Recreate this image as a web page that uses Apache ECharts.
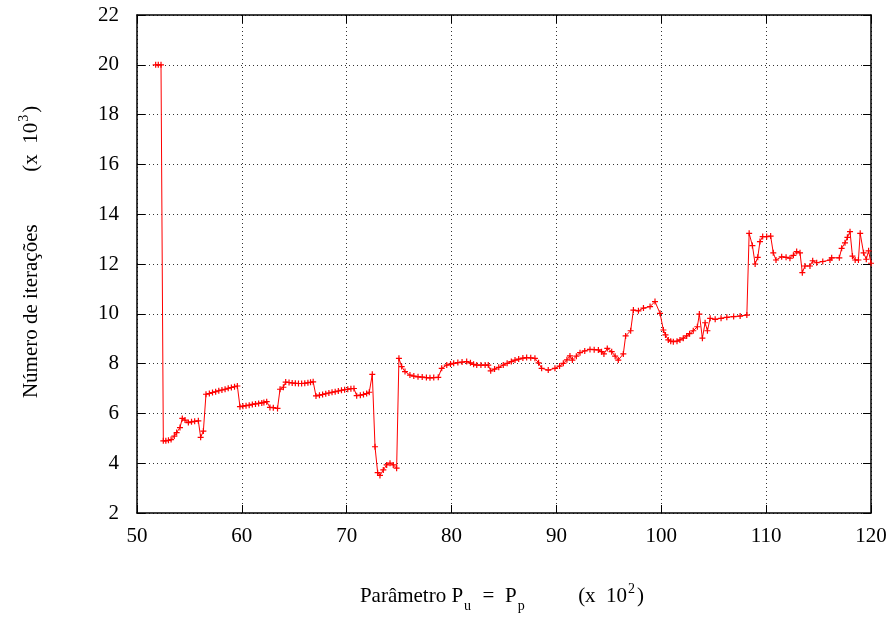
<!DOCTYPE html>
<html>
<head>
<meta charset="utf-8">
<script src="https://cdn.jsdelivr.net/npm/echarts@6/dist/echarts.min.js"></script>
<style>
  html, body { margin: 0; padding: 0; background: #fff; }
  #chart { width: 896px; height: 619px; }
</style>
</head>
<body>
<div id="chart"></div>
<script>
// Parameter P_u = P_p (x 10^2)
var xValues = [
  51.78, 52.03, 52.29, 52.51, 52.75, 53.0, 53.25, 53.56, 53.78, 54.1,
  54.32, 54.58, 54.9, 55.2, 55.5, 55.85, 56.07, 56.33, 56.58, 56.9,
  57.2, 57.5, 57.8, 58.1, 58.4, 58.7, 59.0, 59.3, 59.57, 59.82,
  60.1, 60.4, 60.7, 61.0, 61.3, 61.6, 61.9, 62.1, 62.37, 62.68,
  63.0, 63.4, 63.64, 63.96, 64.18, 64.5, 64.8, 65.1, 65.4, 65.7,
  66.0, 66.3, 66.55, 66.8, 67.07, 67.4, 67.7, 68.0, 68.3, 68.6,
  68.9, 69.2, 69.5, 69.8, 70.1, 70.4, 70.69, 70.95, 71.3, 71.6,
  71.9, 72.15, 72.44, 72.7, 72.95, 73.17, 73.49, 73.81, 74.13, 74.44,
  74.76, 74.98, 75.24, 75.56, 76.03, 76.4, 76.8, 77.2, 77.6, 77.94,
  78.3, 78.73, 79.06, 79.54, 79.9, 80.2, 80.6, 81.0, 81.44, 81.8,
  82.1, 82.4, 82.8, 83.2, 83.5, 83.73, 84.1, 84.5, 84.93, 85.3,
  85.7, 86.05, 86.4, 86.8, 87.16, 87.55, 87.95, 88.3, 88.59, 89.22,
  89.86, 90.3, 90.66, 91.0, 91.29, 91.52, 91.9, 92.25, 92.7, 93.2,
  93.6, 94.0, 94.3, 94.53, 94.85, 95.27, 95.6, 95.9, 96.38, 96.6,
  97.08, 97.34, 97.82, 98.3, 98.93, 99.4, 99.88, 100.2, 100.4, 100.67,
  100.9, 101.15, 101.5, 101.78, 102.1, 102.42, 102.7, 103.05, 103.44, 103.63,
  103.92, 104.18, 104.4, 104.66, 105.14, 105.7, 106.25, 106.9, 107.52, 108.16,
  108.38, 108.69, 108.95, 109.2, 109.41, 109.67, 110.05, 110.43, 110.68, 110.94,
  111.48, 111.9, 112.27, 112.6, 112.91, 113.23, 113.45, 113.7, 114.18, 114.44,
  114.82, 115.4, 116.09, 116.25, 116.98, 117.2, 117.52, 117.75, 118.0, 118.23,
  118.49, 118.8, 118.97, 119.29, 119.55, 119.77, 120.0
];

// Number of iterations (x 10^3)
var iterations = [
  20.0, 20.0, 20.0, 4.90, 4.90, 4.92, 4.95, 5.09, 5.23, 5.43,
  5.80, 5.73, 5.63, 5.66, 5.68, 5.70, 5.04, 5.29, 6.77, 6.80,
  6.84, 6.87, 6.91, 6.94, 6.97, 7.01, 7.04, 7.07, 7.10, 6.27,
  6.29, 6.31, 6.33, 6.36, 6.38, 6.40, 6.42, 6.44, 6.47, 6.24,
  6.23, 6.20, 6.97, 7.05, 7.26, 7.24, 7.22, 7.21, 7.20, 7.20,
  7.21, 7.23, 7.25, 7.27, 6.70, 6.73, 6.76, 6.79, 6.82, 6.85,
  6.87, 6.90, 6.93, 6.95, 6.97, 6.99, 7.00, 6.71, 6.73, 6.76,
  6.80, 6.85, 7.57, 4.66, 3.62, 3.51, 3.73, 3.93, 4.00, 3.93,
  3.80, 8.21, 7.88, 7.68, 7.54, 7.50, 7.47, 7.46, 7.44, 7.43,
  7.44, 7.45, 7.81, 7.94, 7.98, 8.01, 8.04, 8.06, 8.08, 8.03,
  7.97, 7.94, 7.94, 7.94, 7.94, 7.71, 7.78, 7.85, 7.94, 8.01,
  8.08, 8.14, 8.18, 8.22, 8.24, 8.23, 8.21, 8.03, 7.81, 7.74,
  7.81, 7.90, 8.01, 8.15, 8.31, 8.14, 8.30, 8.44, 8.51, 8.57,
  8.56, 8.55, 8.48, 8.39, 8.61, 8.48, 8.30, 8.14, 8.39, 9.11,
  9.32, 10.15, 10.12, 10.23, 10.29, 10.49, 10.02, 9.35, 9.15, 8.95,
  8.90, 8.88, 8.90, 8.95, 9.02, 9.11, 9.20, 9.32, 9.48, 9.99,
  9.02, 9.64, 9.32, 9.82, 9.78, 9.82, 9.86, 9.89, 9.91, 9.95,
  13.23, 12.74, 12.0, 12.27, 12.9, 13.1, 13.1, 13.12, 12.45, 12.16,
  12.29, 12.27, 12.23, 12.35, 12.5, 12.45, 11.65, 11.92, 11.92, 12.13,
  12.05, 12.1, 12.16, 12.25, 12.25, 12.63, 12.85, 13.07, 13.3, 12.32,
  12.16, 12.16, 13.23, 12.45, 12.19, 12.53, 12.03
];

var xTicks = [50, 60, 70, 80, 90, 100, 110, 120];
var yTicks = [2, 4, 6, 8, 10, 12, 14, 16, 18, 20, 22];

var seriesData = xValues.map(function (x, i) { return [x, iterations[i]]; });

var FONT = 'Liberation Serif';
var plusSymbol = 'path://M4,0H6V4H10V6H6V10H4V6H0V4H4Z';

function axisBase(isMain, lo, hi, step) {
  return {
    type: 'value',
    min: lo,
    max: hi,
    interval: step,
    axisLine: { show: true, onZero: false, lineStyle: { color: '#000', width: 1.5 } },
    axisTick: { show: true, inside: true, length: 8, lineStyle: { color: '#000', width: 1 } },
    axisLabel: { show: isMain },
    splitLine: { show: false }
  };
}

var xMain = axisBase(true, xTicks[0], xTicks[xTicks.length - 1], 10);
xMain.position = 'bottom';
xMain.axisLabel = { show: true, margin: 13, fontFamily: FONT, fontSize: 21, color: '#000' };
xMain.splitLine = { show: true, lineStyle: { color: '#333', type: [1, 3], width: 1 } };
var xTop = axisBase(false, xTicks[0], xTicks[xTicks.length - 1], 10);
xTop.position = 'top';

var yMain = axisBase(true, yTicks[0], yTicks[yTicks.length - 1], 2);
yMain.position = 'left';
yMain.axisLabel = { show: true, margin: 18, fontFamily: FONT, fontSize: 21, color: '#000' };
yMain.splitLine = { show: true, lineStyle: { color: '#333', type: [1, 3], width: 1 } };
var yRight = axisBase(false, yTicks[0], yTicks[yTicks.length - 1], 2);
yRight.position = 'right';

var titleRich = {
  n: { fontFamily: FONT, fontSize: 21, lineHeight: 34, fill: '#000' },
  sp: { fontFamily: FONT, fontSize: 21, lineHeight: 34, fill: '#000' },
  sub: { fontFamily: FONT, fontSize: 14, lineHeight: 14, verticalAlign: 'bottom', fill: '#000', padding: [0, 1, 0, 1] },
  sup: { fontFamily: FONT, fontSize: 14, lineHeight: 14, verticalAlign: 'top', fill: '#000', padding: [3, 2, 0, 1] }
};

var chart = echarts.init(document.getElementById('chart'), null, { renderer: 'canvas' });
chart.setOption({
  animation: false,
  backgroundColor: '#fff',
  grid: { left: 137, right: 25, top: 15, bottom: 106, containLabel: false },
  xAxis: [xMain, xTop],
  yAxis: [yMain, yRight],
  series: [{
    type: 'line',
    xAxisIndex: 0,
    yAxisIndex: 0,
    data: seriesData,
    symbol: plusSymbol,
    symbolSize: 6,
    showAllSymbol: true,
    lineStyle: { color: '#ff0000', width: 1 },
    itemStyle: { color: '#ff0000' },
    z: 5
  }],
  graphic: [
    {
      type: 'text',
      x: 502,
      y: 596,
      style: {
        text: '{n|Parâmetro P}{sub|u}{n|  =  P}{sub|p}{sp|          }{n|(x  10}{sup|2}{n|)}',
        rich: titleRich,
        align: 'center',
        verticalAlign: 'middle'
      }
    },
    {
      type: 'text',
      x: 31,
      y: 252,
      rotation: Math.PI / 2,
      style: {
        text: '{n|Número de iterações}{sp|          }{n|(x  10}{sup|3}{n|)}',
        rich: titleRich,
        align: 'center',
        verticalAlign: 'middle'
      }
    }
  ]
});
</script>
</body>
</html>
